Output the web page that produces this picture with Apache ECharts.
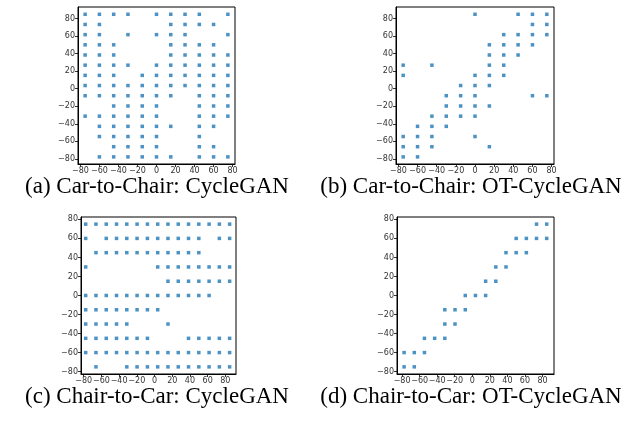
<!DOCTYPE html>
<html>
<head>
<meta charset="utf-8">
<script src="https://cdn.jsdelivr.net/npm/echarts@6/dist/echarts.min.js"></script>
<style>
html,body{margin:0;padding:0;background:#fff;}
#chart{width:639px;height:421px;}
</style>
</head>
<body>
<div id="chart"></div>
<script>
// ---- data ----
const tickValues = [-80, -60, -40, -20, 0, 20, 40, 60, 80];
// grid values (15-step columns / ~11.6-step rows)
const step15 = [-75, -60, -45, -30, -15, 0, 15, 30, 45, 60, 75];
const fine = [-77.7, -66.1, -54.5, -42.9, -31.3, -19.7, -8.0, 3.6, 15.2, 26.8, 38.4, 50.0, 61.6, 73.2, 84.8];

// Panel (a) Car-to-Chair CycleGAN: per row (y = fine[r], bottom->top) list of column indices into step15
const aRows = [
  [1,2,3,4,5,6,8,9,10],
  [2,3,4,5,8,9],
  [1,2,3,4,5,8],
  [1,2,3,4,5,6,8,9],
  [0,1,2,3,4,5,8,9,10],
  [2,3,4,5,8,9,10],
  [0,1,2,3,4,5,6,8,9,10],
  [0,1,2,3,4,5,6,7,8,9,10],
  [0,1,2,4,5,6,7,8,9,10],
  [0,1,2,3,5,6,7,8,9,10],
  [0,1,2,6,7,8,9,10],
  [0,1,2,6,7,8,9],
  [0,1,3,5,6,7,10],
  [0,1,6,7,8,9],
  [0,1,2,3,5,6,7,8,10]
];
// Panel (b) Car-to-Chair OT-CycleGAN
const bRows = [
  [0,1],
  [0,1,2,6],
  [0,1,2,5],
  [1,2,3],
  [2,3,4,5],
  [3,4,5,6],
  [3,4,5,9,10],
  [4,5,6],
  [0,5,6,7],
  [0,2,6,7],
  [6,7,8],
  [6,7,8,9],
  [7,8,9,10],
  [9,10],
  [5,8,9,10]
];
// Panel (c) Chair-to-Car CycleGAN: per row (y = step15[r], bottom->top) list of column indices into fine
const cRows = [
  [1,4,5,6,7,8,9,10,11,12,13,14],
  [0,1,2,3,4,5,6,7,8,9,10,11,12,13,14],
  [0,1,2,3,4,5,6,10,11,12,13,14],
  [0,1,2,3,4,8],
  [0,1,2,3,4,5,6,7],
  [0,1,2,3,4,5,6,7,8,9,10,11,12],
  [8,9,10,11,12,13,14],
  [0,7,8,9,10,11,12,13,14],
  [1,2,3,4,5,6,7,8,9,10,11],
  [0,2,3,4,5,6,7,8,9,10,11,13,14],
  [0,1,2,3,4,5,6,7,8,9,10,11,12,13,14]
];
// Panel (d) Chair-to-Car OT-CycleGAN
const dRows = [
  [0,1],
  [0,1,2],
  [2,3,4],
  [4,5],
  [4,5,6],
  [6,7,8],
  [8,9],
  [9,10],
  [10,11,12],
  [11,12,13,14],
  [13,14]
];
const captions = [
  '(a) Car-to-Chair: CycleGAN',
  '(b) Car-to-Chair: OT-CycleGAN',
  '(c) Chair-to-Car: CycleGAN',
  '(d) Chair-to-Car: OT-CycleGAN'
];

// ---- build ----
function build(rows, xs, ys) {
  const out = [];
  rows.forEach((cols, r) => cols.forEach(c => out.push([xs[c], ys[r]])));
  return out;
}
const series = [
  build(aRows, step15, fine),
  build(bRows, step15, fine),
  build(cRows, fine, step15),
  build(dRows, fine, step15)
];

const grids = [
  {left: 78, top: 7, width: 157, height: 157},
  {left: 396, top: 7, width: 158, height: 157},
  {left: 81, top: 217, width: 155, height: 157},
  {left: 397, top: 217, width: 157, height: 157}
];
const xRanges = [[-82.5, 82.5], [-82.5, 82.5], [-83, 92], [-85.8, 93.1]];
const yRanges = [[-85.8, 93.1], [-85.8, 93.1], [-82.5, 82.5], [-82.5, 82.5]];

const labelFmt = v => String(v).replace('-', '\u2212');
function axis(i, range, kind) {
  return {
    type: 'value', gridIndex: i, min: range[0], max: range[1],
    axisLine: {show: true, onZero: false, lineStyle: {color: '#000', width: 1}},
    axisTick: {show: true, inside: false, length: 3, customValues: tickValues, lineStyle: {color: '#000', width: 0.8}},
    axisLabel: {show: true, customValues: tickValues, formatter: labelFmt, fontFamily: 'DejaVu Sans', fontSize: 8, color: '#333', margin: 3},
    splitLine: {show: false}
  };
}

const chart = echarts.init(document.getElementById('chart'), null, {renderer: 'canvas'});
chart.setOption({
  animation: false,
  backgroundColor: '#fff',
  grid: grids.map(g => Object.assign({show: true, borderColor: '#000', borderWidth: 1, backgroundColor: 'transparent'}, g)),
  xAxis: xRanges.map((r, i) => axis(i, r, 'x')),
  yAxis: yRanges.map((r, i) => axis(i, r, 'y')),
  title: [
    {text: captions[0], left: 157, top: 175},
    {text: captions[1], left: 471, top: 175},
    {text: captions[2], left: 157, top: 385},
    {text: captions[3], left: 471, top: 385}
  ].map(t => ({text: t.text, left: t.left, top: t.top, textAlign: 'center', padding: 0,
    textStyle: {fontFamily: 'Liberation Serif', fontWeight: 'normal', fontSize: 23, color: '#000'}})),
  series: series.map((d, i) => ({
    type: 'scatter', xAxisIndex: i, yAxisIndex: i, data: d,
    symbol: 'rect', symbolSize: 3.5,
    itemStyle: {color: '#1f77b4'}
  }))
});
</script>
</body>
</html>
